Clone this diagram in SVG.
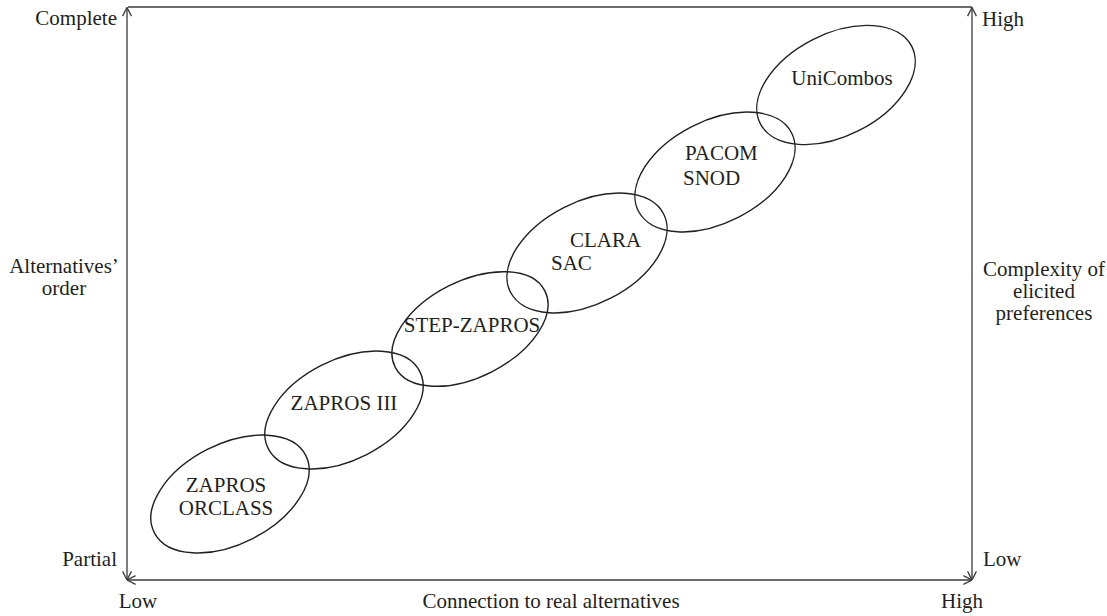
<svg xmlns="http://www.w3.org/2000/svg" width="1107" height="616" viewBox="0 0 1107 616">
<style>
text { font-family: "Liberation Serif", "Times New Roman", serif; font-size: 21px; fill: #231f20; }
.axis { stroke: #3a3a3a; stroke-width: 1.3; fill: none; }
.oval { stroke: #231f20; stroke-width: 1.4; fill: none; }
.m { text-anchor: middle; }
.e { text-anchor: end; }
</style>
<defs>
<marker id="arr" viewBox="0 0 10 10" refX="9.6" refY="5" markerWidth="10" markerHeight="10" markerUnits="userSpaceOnUse" orient="auto-start-reverse">
<path d="M1,0.6 L9.6,5 L1,9.4" fill="none" stroke="#3a3a3a" stroke-width="1.3"/>
</marker>
</defs>
<rect width="1107" height="616" fill="#ffffff"/>
<g id="connectors">
<line class="axis" x1="128" y1="7" x2="972" y2="7"/>
<line class="axis" x1="127" y1="7.5" x2="127" y2="580" marker-start="url(#arr)" marker-end="url(#arr)"/>
<line class="axis" x1="972" y1="7.5" x2="972" y2="580" marker-start="url(#arr)" marker-end="url(#arr)"/>
<line class="axis" x1="127" y1="580" x2="972" y2="580" marker-start="url(#arr)" marker-end="url(#arr)"/>
</g>
<g id="axis-labels">
<text class="e" x="117" y="25">Complete</text>
<text class="e" x="117" y="566">Partial</text>
<text class="m" x="64" y="273">Alternatives’</text>
<text class="m" x="64" y="295">order</text>
<text x="982" y="26">High</text>
<text x="983" y="566">Low</text>
<text class="m" x="1044" y="276">Complexity of</text>
<text class="m" x="1044" y="298">elicited</text>
<text class="m" x="1044" y="320">preferences</text>
<text class="m" x="138" y="608">Low</text>
<text class="m" x="551" y="608">Connection to real alternatives</text>
<text class="m" x="962" y="608">High</text>
</g>
<g id="node-zapros-orclass">
<ellipse class="oval" cx="230" cy="494" rx="85" ry="50" transform="rotate(-27 230 494)"/>
<text class="m" x="226" y="492">ZAPROS</text>
<text class="m" x="226" y="515">ORCLASS</text>
</g>
<g id="node-zapros-iii">
<ellipse class="oval" cx="344" cy="410" rx="85" ry="50" transform="rotate(-27 344 410)"/>
<text class="m" x="344" y="410">ZAPROS III</text>
</g>
<g id="node-step-zapros">
<ellipse class="oval" cx="470" cy="329" rx="84" ry="48" transform="rotate(-27 470 329)"/>
<text class="m" x="472" y="332">STEP-ZAPROS</text>
</g>
<g id="node-clara-sac">
<ellipse class="oval" cx="587" cy="253" rx="86" ry="51" transform="rotate(-27 587 253)"/>
<text x="570" y="247">CLARA</text>
<text x="551" y="270">SAC</text>
</g>
<g id="node-pacom-snod">
<ellipse class="oval" cx="715" cy="172" rx="86" ry="51" transform="rotate(-27 715 172)"/>
<text x="685" y="160">PACOM</text>
<text x="683" y="185">SNOD</text>
</g>
<g id="node-unicombos">
<ellipse class="oval" cx="836" cy="85" rx="85" ry="51" transform="rotate(-27 836 85)"/>
<text class="m" x="842" y="85">UniCombos</text>
</g>
</svg>
